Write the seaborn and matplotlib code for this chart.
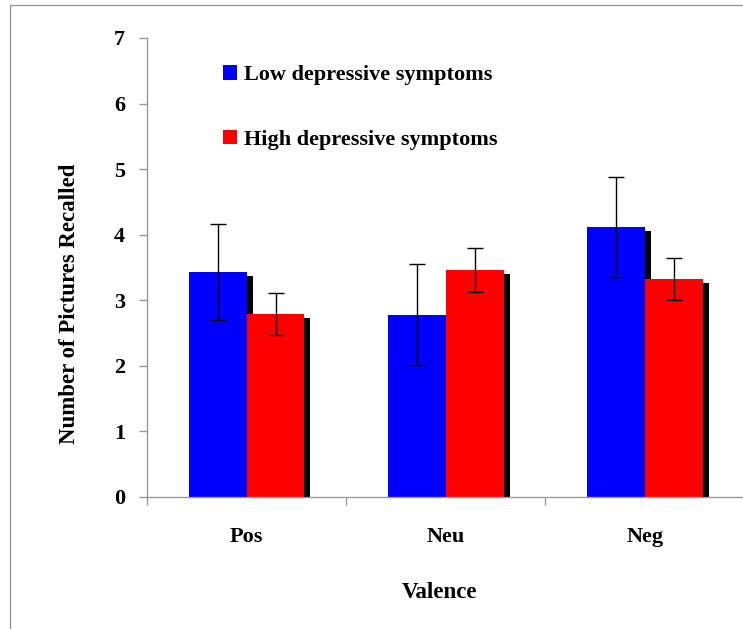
import numpy as np
import pandas as pd
import matplotlib
matplotlib.use("Agg")
import matplotlib.pyplot as plt
import matplotlib.patheffects as pe
from matplotlib.patches import Patch, Rectangle
import seaborn as sns

# ── Data ─────────────────────────────────────────────────────────────
valence = ["Pos", "Neu", "Neg"]
groups = ["Low depressive symptoms", "High depressive symptoms"]
low_means = [3.43, 2.78, 4.12]
high_means = [2.79, 3.46, 3.32]
low_err = [0.73, 0.77, 0.76]
high_err = [0.32, 0.33, 0.32]
colors = ["#0000ff", "#ff0000"]

df = pd.DataFrame({
    "Valence": valence * 2,
    "Group": [groups[0]] * 3 + [groups[1]] * 3,
    "Recalled": low_means + high_means,
})

# ── Plot ─────────────────────────────────────────────────────────────
sns.set_style("white")
plt.rcParams["font.family"] = ["Liberation Serif", "DejaVu Serif"]
plt.rcParams["font.weight"] = "bold"
plt.rcParams["text.color"] = "black"
plt.rcParams["axes.labelcolor"] = "black"
plt.rcParams["xtick.labelcolor"] = "black"
plt.rcParams["ytick.labelcolor"] = "black"

fig = plt.figure(figsize=(7.43, 6.29), dpi=100)
ax = fig.add_axes([0.198, 0.210, 0.804, 0.7296])

sns.barplot(data=df, x="Valence", y="Recalled", hue="Group", order=valence,
            hue_order=groups, palette=colors, width=0.58, gap=0,
            errorbar=None, saturation=1, legend=False, ax=ax)

shadow = [pe.SimplePatchShadow(offset=(4.3, -3), shadow_rgbFace="black", alpha=1.0),
          pe.Normal()]
for bar in ax.patches:
    bar.set_edgecolor("none")
    bar.set_path_effects(shadow)

# error bars on top of each bar
errs = low_err + high_err
for bar, err in zip(ax.patches, errs):
    cx = bar.get_x() + bar.get_width() / 2
    ax.errorbar(cx, bar.get_height(), yerr=err, color="black", lw=1,
                capsize=5.5, capthick=1, zorder=5)

ax.set_xlim(-0.5, 2.5)
ax.set_ylim(0, 7)
ax.set_yticks(range(0, 8))
ax.set_xticks([-0.5, 0.5, 1.5], minor=True)
ax.tick_params(axis="x", which="major", length=0, pad=22, labelsize=16)
ax.tick_params(axis="x", which="minor", length=6, color="#999999", width=1,
               direction="out", bottom=True)
ax.tick_params(axis="y", length=6, color="#999999", width=1, direction="out",
               left=True, pad=10, labelsize=16)

for side in ["top", "right"]:
    ax.spines[side].set_visible(False)
for side in ["left", "bottom"]:
    ax.spines[side].set_color("#999999")
    ax.spines[side].set_linewidth(1)

ax.set_xlabel("Valence", fontsize=16.5, fontweight="bold")
ax.set_ylabel("Number of Pictures Recalled", fontsize=16.5, fontweight="bold")
ax.xaxis.set_label_coords(0.49, -0.186)
ax.yaxis.set_label_coords(-0.112, 0.42)

handles = [Patch(facecolor=c, edgecolor="none") for c in colors]
ax.legend(handles, groups, loc="upper left", bbox_to_anchor=(0.093, 0.985),
          frameon=False, handlelength=0.65, handleheight=0.65,
          handletextpad=0.3, labelspacing=2.0,
          prop={"family": "Liberation Serif", "weight": "bold", "size": 16})

# outer chart frame
fig.patches.append(Rectangle((10 / 743, -0.1), 1.2, 1 - 5 / 629 + 0.1,
                             transform=fig.transFigure, fill=False,
                             edgecolor="#999999", lw=1))

fig.savefig("out.png", dpi=100)
